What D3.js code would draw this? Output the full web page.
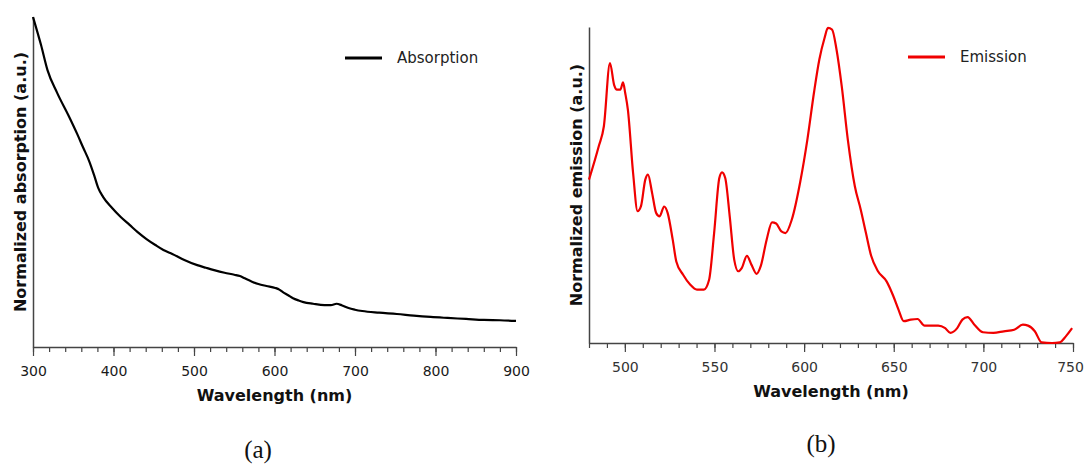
<!DOCTYPE html>
<html>
<head>
<meta charset="utf-8">
<script src="https://cdn.jsdelivr.net/npm/d3@7"></script>
<style>
  body { margin: 0; background: #fff; }
  svg { display: block; }
  .tick text { font-family: "DejaVu Sans", sans-serif; }
</style>
</head>
<body>
<svg id="chart" width="1084" height="464"></svg>
<script>
// absorption spectrum (panel a)
const absWavelength = [300, 310, 318, 330, 345, 355, 362, 370, 376, 381, 387, 398, 409, 420, 430, 441, 452, 462, 473, 488, 504, 515, 525, 538, 550, 557, 563, 572, 580, 590, 601, 606, 610, 617, 623, 630, 636, 648, 662, 670, 677, 684, 692, 700, 709, 730, 752, 773, 794, 815, 838, 860, 880, 900];
const absValue = [1.0, 0.915, 0.839, 0.77, 0.697, 0.645, 0.606, 0.562, 0.52, 0.482, 0.455, 0.422, 0.394, 0.37, 0.348, 0.327, 0.309, 0.294, 0.282, 0.264, 0.248, 0.24, 0.233, 0.225, 0.219, 0.215, 0.208, 0.198, 0.191, 0.185, 0.179, 0.174, 0.167, 0.157, 0.148, 0.141, 0.136, 0.131, 0.127, 0.127, 0.131, 0.126, 0.118, 0.113, 0.109, 0.104, 0.100, 0.095, 0.091, 0.088, 0.085, 0.082, 0.081, 0.079];

// emission spectrum (panel b)
const emWavelength = [480, 485.4, 488.3, 491.7, 494, 495.6, 497.5, 499, 500.2, 501.7, 504.6, 507.1, 509, 511.4, 512.9, 515.2, 517.5, 519.4, 521.9, 523.9, 526.7, 528.7, 532.5, 536.4, 540.2, 544.1, 547, 549.8, 552.7, 554.2, 556, 558.5, 561, 563.3, 565.2, 568.1, 570.6, 573.5, 575.8, 579.1, 582.1, 584.4, 587.3, 589.6, 593.1, 597.9, 601.8, 605.6, 608.5, 611.4, 613.3, 615.6, 618.1, 621, 624.4, 628.3, 631.6, 634.5, 637.4, 641.2, 646, 649.8, 652.7, 655.6, 659.5, 663.3, 667.2, 671, 674.8, 678.7, 681.6, 685.4, 688.3, 691.2, 695, 699.8, 705.6, 711.4, 717.2, 722, 724.9, 728.7, 732.5, 738.3, 742.6, 746, 749.5];
const emValue = [0.517, 0.622, 0.686, 0.886, 0.817, 0.802, 0.802, 0.825, 0.791, 0.738, 0.538, 0.417, 0.433, 0.517, 0.533, 0.475, 0.411, 0.401, 0.432, 0.411, 0.327, 0.258, 0.216, 0.185, 0.169, 0.169, 0.2, 0.348, 0.522, 0.54, 0.522, 0.401, 0.264, 0.227, 0.237, 0.276, 0.248, 0.219, 0.243, 0.327, 0.382, 0.378, 0.353, 0.348, 0.39, 0.512, 0.643, 0.796, 0.897, 0.965, 0.997, 0.992, 0.928, 0.812, 0.643, 0.496, 0.422, 0.348, 0.276, 0.227, 0.195, 0.148, 0.105, 0.069, 0.074, 0.076, 0.055, 0.055, 0.055, 0.047, 0.032, 0.047, 0.074, 0.082, 0.058, 0.034, 0.032, 0.037, 0.042, 0.058, 0.055, 0.037, 0.002, 0, 0.002, 0.021, 0.047];

const absMajor = [300, 400, 500, 600, 700, 800, 900];
const absMinor = d3.range(300, 901, 20);
const emMajor = [500, 550, 600, 650, 700, 750];
const emMinor = d3.range(480, 751, 10);

const svg = d3.select('#chart');

function panel(opts) {
    const g = svg.append('g');
    const x = d3.scaleLinear().domain(opts.xDomain).range([opts.left, opts.right]);
    const y = d3.scaleLinear().domain([0, 1]).range([opts.bottom, opts.top]);

    // minor ticks
    g.append('g')
        .attr('transform', 'translate(0,' + opts.bottom + ')')
        .call(d3.axisBottom(x).tickValues(opts.minor).tickSize(5).tickFormat('').tickSizeOuter(0))
        .call(s => s.select('.domain').remove())
        .selectAll('line').attr('stroke', '#444').attr('stroke-width', 1.2);

    // major ticks + labels
    const xa = g.append('g')
        .attr('transform', 'translate(0,' + opts.bottom + ')')
        .call(d3.axisBottom(x).tickValues(opts.major).tickSize(9).tickPadding(10).tickSizeOuter(0));
    xa.select('.domain').attr('stroke', '#444').attr('stroke-width', 1.5);
    xa.selectAll('line').attr('stroke', '#444').attr('stroke-width', 1.2);
    xa.selectAll('text').attr('font-size', '14px').attr('fill', opts.tickColor);
    // last label sits at the page edge, nudge it in a little
    xa.selectAll('.tick').filter(d => d === opts.xDomain[1] && opts.right > 1000)
        .select('text').attr('x', -3);

    // y axis without ticks
    g.append('g')
        .attr('transform', 'translate(' + opts.left + ',0)')
        .call(d3.axisLeft(y).tickValues([]).tickSizeOuter(0))
        .select('.domain').attr('stroke', '#444').attr('stroke-width', 1.5);

    // axis titles
    g.append('text')
        .attr('x', (opts.left + opts.right) / 2)
        .attr('y', opts.bottom + 48)
        .attr('dy', '0.35em')
        .attr('text-anchor', 'middle')
        .style('font-family', '"DejaVu Sans", sans-serif')
        .style('font-weight', 'bold')
        .style('font-size', '16px')
        .attr('fill', '#111')
        .text('Wavelength (nm)');

    g.append('text')
        .attr('transform', 'translate(' + opts.yTitleX + ',' + (opts.top + opts.bottom) / 2 + ') rotate(-90)')
        .attr('dy', '0.35em')
        .attr('text-anchor', 'middle')
        .style('font-family', '"DejaVu Sans", sans-serif')
        .style('font-weight', 'bold')
        .style('font-size', '16px')
        .attr('fill', '#111')
        .text(opts.yTitle);

    // the spectrum
    const pts = opts.xs.map((d, i) => [d, opts.ys[i]]);
    g.append('path')
        .datum(pts)
        .attr('fill', 'none')
        .attr('stroke', opts.color)
        .attr('stroke-width', 2.2)
        .attr('stroke-linejoin', 'round')
        .attr('d', d3.line().x(d => x(d[0])).y(d => y(d[1])).curve(d3.curveMonotoneX));

    // legend
    g.append('line')
        .attr('x1', opts.legX).attr('x2', opts.legX + 37)
        .attr('y1', opts.legY).attr('y2', opts.legY)
        .attr('stroke', opts.color).attr('stroke-width', 3);
    g.append('text')
        .attr('x', opts.legX + 52)
        .attr('y', opts.legY)
        .attr('dy', '0.35em')
        .style('font-family', '"DejaVu Sans", sans-serif')
        .style('font-size', '15px')
        .attr('fill', '#222')
        .text(opts.legend);

    // caption
    g.append('text')
        .attr('x', opts.capX)
        .attr('y', opts.capY)
        .attr('dy', '0.35em')
        .attr('text-anchor', 'middle')
        .style('font-family', '"Liberation Serif", serif')
        .style('font-size', '25px')
        .attr('fill', '#111')
        .text(opts.caption);
}

panel({
    xDomain: [300, 900], left: 33, right: 516, top: 17, bottom: 347,
    major: absMajor, minor: absMinor, tickColor: '#1a1a1a',
    xs: absWavelength, ys: absValue, color: '#000',
    yTitle: 'Normalized absorption (a.u.)', yTitleX: 20,
    legend: 'Absorption', legX: 345, legY: 58,
    caption: '(a)', capX: 258, capY: 449
});

panel({
    xDomain: [480, 750], left: 589, right: 1073, top: 27, bottom: 343,
    major: emMajor, minor: emMinor, tickColor: '#333',
    xs: emWavelength, ys: emValue, color: '#f00000',
    yTitle: 'Normalized emission (a.u.)', yTitleX: 576,
    legend: 'Emission', legX: 908, legY: 57,
    caption: '(b)', capX: 821, capY: 443
});
</script>
</body>
</html>
